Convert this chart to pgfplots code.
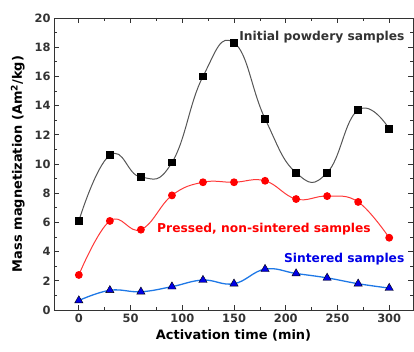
\documentclass[border=0pt]{standalone}
\usepackage{fontspec}
\setmainfont{DejaVu Sans}
\usepackage{pgfplots}
\pgfplotsset{compat=1.18}
\definecolor{axgray}{HTML}{333333}
\definecolor{blk}{HTML}{555555}
\definecolor{redl}{HTML}{FF3838}
\definecolor{bluel}{HTML}{1E78E6}
\definecolor{blued}{HTML}{0000E6}
\begin{document}
\begin{tikzpicture}
\begin{axis}[
  scale only axis,
  width=359bp, height=292bp,
  xmin=-24, xmax=323, ymin=0, ymax=20,
  xtick={0,50,...,300}, ytick={0,2,...,20},
  minor xtick={25,75,...,325,-25}, minor ytick={1,3,...,19},
  tick align=inside,
  major tick length=5bp, minor tick length=3bp,
  axis line style={axgray, line width=0.9pt},
  every tick/.style={axgray, line width=0.7pt},
  tick label style={font=\fontsize{11.5}{13}\selectfont\bfseries, text=axgray},
  /pgf/number format/assume math mode=true,
  xlabel={\bfseries Activation time (min)},
  ylabel={\bfseries Mass magnetization (Am$^{\mathbf{2}}$/kg)},
  label style={font=\fontsize{13}{15}\selectfont, text=black},
  xlabel style={yshift=-1bp},
  ylabel style={yshift=3bp},
]
\addplot[blk, line width=1pt, smooth, tension=0.8, mark=square*, mark size=3.4pt, mark options={black, fill=black, solid}] coordinates {
(0,6.1) (30,10.6) (60,9.1) (90,10.1) (120,16.0) (150,18.3) (180,13.1) (210,9.4) (240,9.4) (270,13.7) (300,12.4)};
\addplot[redl, line width=1pt, smooth, tension=0.7, mark=*, mark size=3.4pt, mark options={red, fill=red}] coordinates {
(0,2.4) (30,6.1) (60,5.5) (90,7.85) (120,8.75) (150,8.75) (180,8.85) (210,7.6) (240,7.8) (270,7.4) (300,4.95)};
\addplot[bluel, line width=1.3pt, smooth, tension=0.7, mark=triangle*, mark size=4.8pt, mark options={draw=black, fill=blued, line width=0.4pt}] coordinates {
(0,0.65) (30,1.35) (60,1.25) (90,1.6) (120,2.05) (150,1.8) (180,2.8) (210,2.5) (240,2.2) (270,1.8) (300,1.5)};
\node[font=\fontsize{12.3}{14}\selectfont\bfseries, text=axgray] at (axis cs:235,18.7) {Initial powdery samples};
\node[font=\fontsize{12.3}{14}\selectfont\bfseries, text=red] at (axis cs:179,5.55) {Pressed, non-sintered samples};
\node[font=\fontsize{12.3}{14}\selectfont\bfseries, text=blued] at (axis cs:256.5,3.5) {Sintered samples};
\end{axis}
\path ([xshift=-54bp,yshift=-42bp]current axis.south west) rectangle ([xshift=1bp,yshift=18bp]current axis.north east);
\end{tikzpicture}
\end{document}
